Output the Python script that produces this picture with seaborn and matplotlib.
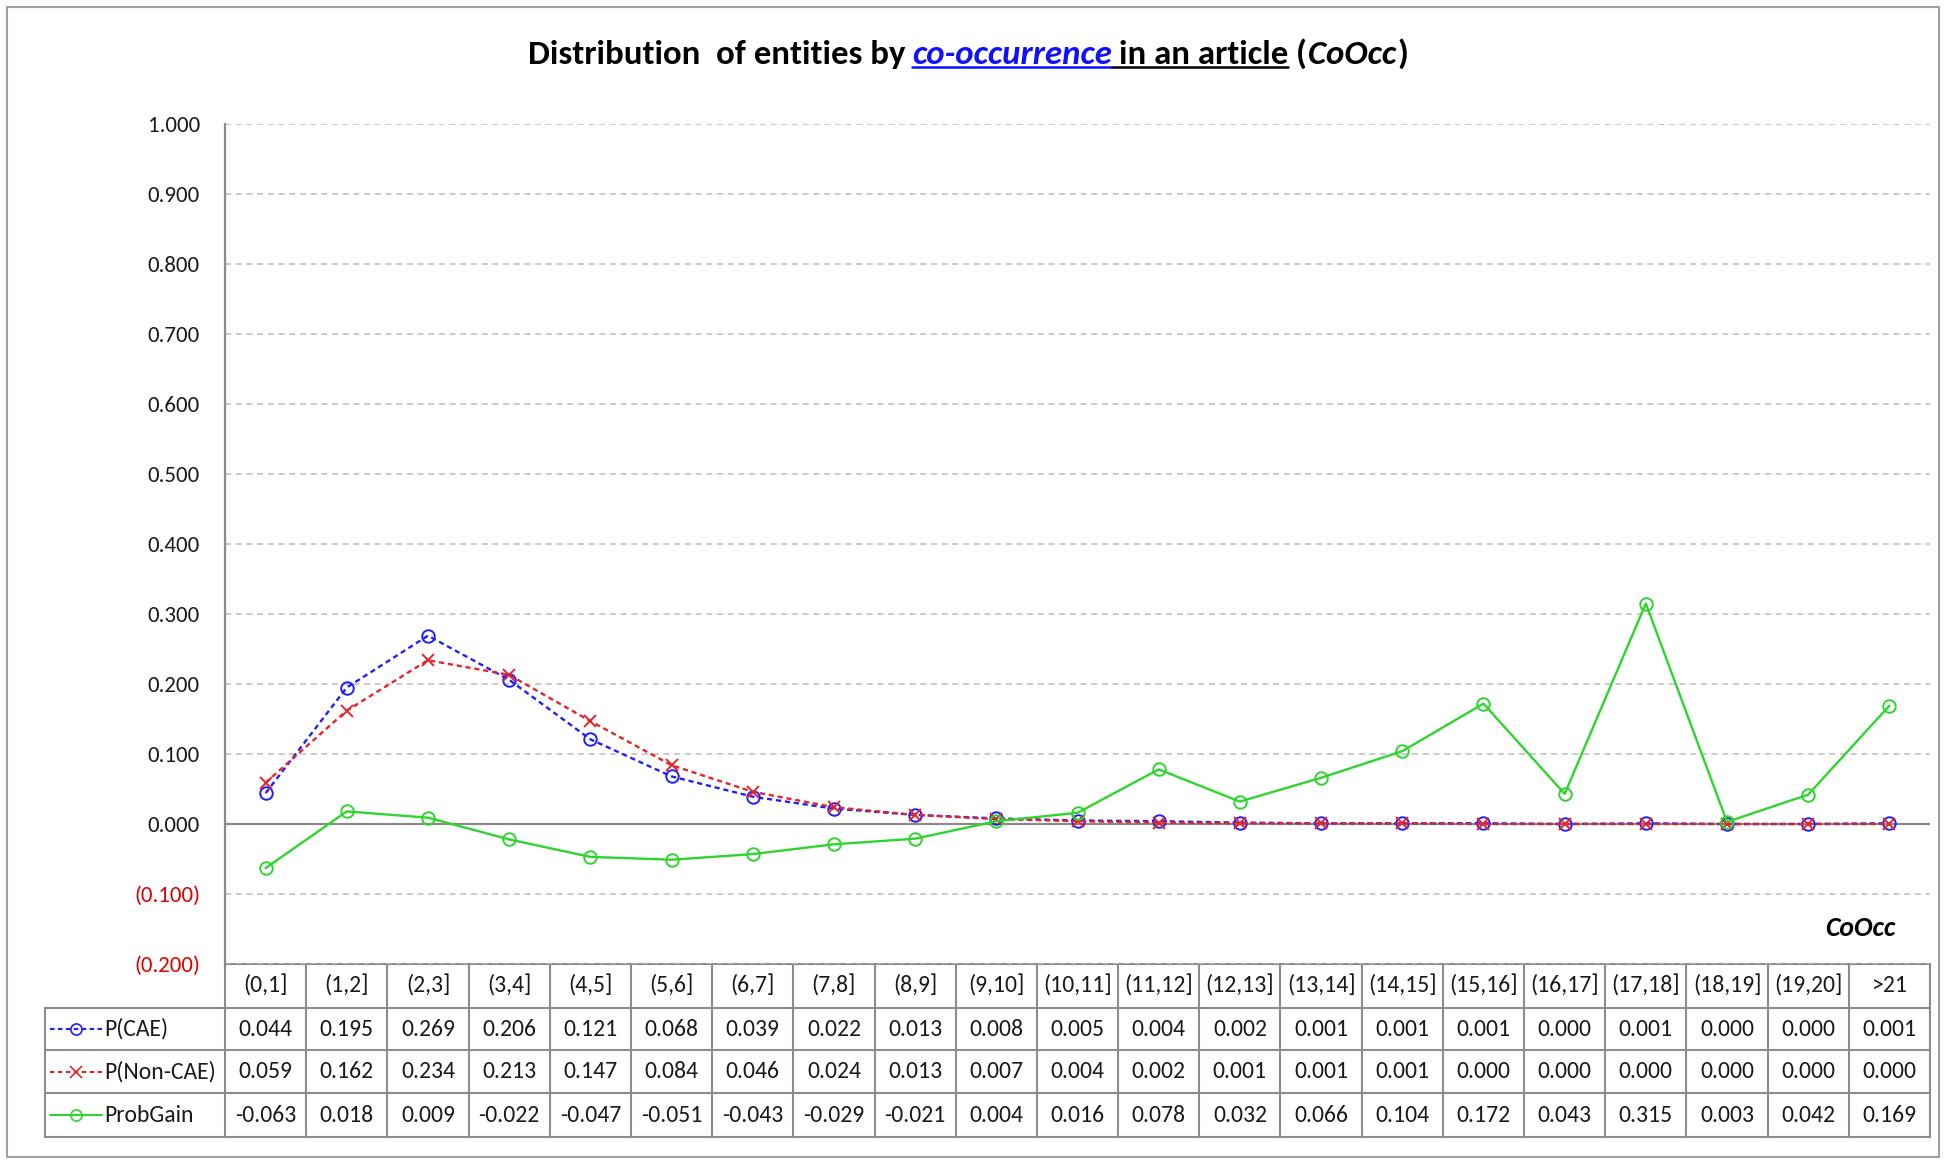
import numpy as np
import pandas as pd
import matplotlib
matplotlib.use("Agg")
import matplotlib.pyplot as plt
import seaborn as sns
from matplotlib.lines import Line2D

# ========== DATA ==========
BINS = ["(0,1]", "(1,2]", "(2,3]", "(3,4]", "(4,5]", "(5,6]", "(6,7]", "(7,8]",
        "(8,9]", "(9,10]", "(10,11]", "(11,12]", "(12,13]", "(13,14]", "(14,15]",
        "(15,16]", "(16,17]", "(17,18]", "(18,19]", "(19,20]", ">21"]
P_CAE = [0.044, 0.195, 0.269, 0.206, 0.121, 0.068, 0.039, 0.022, 0.013, 0.008, 0.005,
         0.004, 0.002, 0.001, 0.001, 0.001, 0.000, 0.001, 0.000, 0.000, 0.001]
P_NON_CAE = [0.059, 0.162, 0.234, 0.213, 0.147, 0.084, 0.046, 0.024, 0.013, 0.007, 0.004,
             0.002, 0.001, 0.001, 0.001, 0.000, 0.000, 0.000, 0.000, 0.000, 0.000]
PROB_GAIN = [-0.063, 0.018, 0.009, -0.022, -0.047, -0.051, -0.043, -0.029, -0.021, 0.004,
             0.016, 0.078, 0.032, 0.066, 0.104, 0.172, 0.043, 0.315, 0.003, 0.042, 0.169]
SERIES = ["P(CAE)", "P(Non-CAE)", "ProbGain"]
Y_TICKS = [-0.2, -0.1, 0.0, 0.1, 0.2, 0.3, 0.4, 0.5, 0.6, 0.7, 0.8, 0.9, 1.0]

# ========== STYLE ==========
W, H, DPI = 1946, 1164, 100
FONT = ["Carlito", "Liberation Sans Narrow", "Liberation Sans", "DejaVu Sans"]
STYLES = {
    "P(CAE)": dict(color="#1f1fff", ls=(0, (2.2, 1.6)), marker="o"),
    "P(Non-CAE)": dict(color="#e3262b", ls=(0, (2.2, 1.6)), marker="x"),
    "ProbGain": dict(color="#2fd52f", ls="-", marker="o"),
}
GRID_C = "#bdbdbd"
TABLE_C = "#8c8c8c"
TXT_C = "#1a1a1a"
TXT = 17

# layout in pixels (top-left origin)
PLOT_L, PLOT_R, PLOT_T, PLOT_B = 225, 1930, 124, 964
TABLE_L = 45
ROW_Y = [964, 1008, 1050, 1093, 1137]

sns.set_theme(style="white")
plt.rcParams["font.family"] = FONT

fig = plt.figure(figsize=(W / DPI, H / DPI), dpi=DPI)
ax = fig.add_axes([PLOT_L / W, 1 - PLOT_B / H, (PLOT_R - PLOT_L) / W, (PLOT_B - PLOT_T) / H])
ax.set_facecolor("none")

x = np.arange(len(BINS))
data = {"P(CAE)": P_CAE, "P(Non-CAE)": P_NON_CAE, "ProbGain": PROB_GAIN}
df = pd.DataFrame({"x": x, **data})

ax.yaxis.grid(True, color=GRID_C, linestyle=(0, (4, 3)), lw=1.1)
ax.axhline(0, color="#8a8a8a", lw=1.6, zorder=1)

for name in SERIES:
    st = STYLES[name]
    sns.lineplot(data=df, x="x", y=name, ax=ax, color=st["color"], lw=1.7,
                 marker=st["marker"], markersize=9, legend=False, zorder=3)
    ln = ax.lines[-1]
    ln.set_linestyle(st["ls"])
    ln.set_markerfacecolor("none")
    ln.set_markeredgecolor(st["color"])
    ln.set_markeredgewidth(1.4)

ax.set_xlim(-0.5, len(BINS) - 0.5)
ax.set_ylim(-0.2, 1.0)
ax.set_yticks(Y_TICKS)
ax.set_yticklabels([f"{v:.3f}" if v >= -1e-9 else f"({-v:.3f})" for v in Y_TICKS])
for lab, v in zip(ax.get_yticklabels(), Y_TICKS):
    lab.set_color("#e00000" if v < -1e-9 else TXT_C)
    lab.set_fontsize(16.5)
ax.tick_params(axis="y", length=0, pad=18)
ax.set_xticks([])
ax.set_xlabel("")
ax.set_ylabel("")
for side in ["top", "right", "bottom"]:
    ax.spines[side].set_visible(False)
ax.spines["left"].set_color("#8a8a8a")
ax.spines["left"].set_linewidth(1.6)

# ========== OVERLAY (pixel coords) ==========
ov = fig.add_axes([0, 0, 1, 1], zorder=-1)
ov.set_xlim(0, W)
ov.set_ylim(H, 0)
ov.axis("off")

# outer chart border
ov.plot([7, 1939, 1939, 7, 7], [7, 7, 1157, 1157, 7], color="#a0a0a0", lw=1.5)

# data table below the plot, columns tied to the category scale
fig.canvas.draw()
edges = [ax.transData.transform((i - 0.5, 0))[0] for i in range(len(BINS) + 1)]
centers = [(a + b) / 2 for a, b in zip(edges[:-1], edges[1:])]
tkw = dict(color=TABLE_C, lw=1.5, solid_capstyle="projecting")
ov.plot([edges[0], edges[-1]], [ROW_Y[0], ROW_Y[0]], **tkw)
for y in ROW_Y[1:]:
    ov.plot([TABLE_L, edges[-1]], [y, y], **tkw)
for e in edges:
    ov.plot([e, e], [ROW_Y[0], ROW_Y[-1]], **tkw)
ov.plot([TABLE_L, TABLE_L], [ROW_Y[1], ROW_Y[-1]], **tkw)

row_mid = [(a + b) / 2 for a, b in zip(ROW_Y[:-1], ROW_Y[1:])]
for c, lab in zip(centers, BINS):
    ov.text(c, row_mid[0], lab, ha="center", va="center", fontsize=TXT, color=TXT_C)
for r, name in enumerate(SERIES, start=1):
    st = STYLES[name]
    ym = row_mid[r]
    ov.add_line(Line2D([50, 102], [ym, ym], color=st["color"], lw=1.5, ls=st["ls"]))
    ov.add_line(Line2D([76], [ym], marker=st["marker"], markersize=8, color=st["color"],
                       markerfacecolor="none", markeredgewidth=1.2))
    ov.text(104, ym, name, ha="left", va="center", fontsize=TXT, color=TXT_C)
    for c, v in zip(centers, data[name]):
        ov.text(c, ym, f"{v:.3f}", ha="center", va="center", fontsize=TXT, color=TXT_C)

# axis caption
fig.text(1895 / W, 1 - 928 / H, "CoOcc", ha="right", va="center", fontsize=20,
         fontweight="bold", fontstyle="italic", color="black")

# ========== TITLE (mixed styles) ==========
TSIZE = 25
pieces = [
    ("Distribution  of entities by", dict(fontweight="bold", color="black"), 0),
    ("co-occurrence", dict(fontweight="bold", fontstyle="italic", color="#1010ff"), 5),
    ("in an article", dict(fontweight="bold", color="black"), 5),
    ("(", dict(fontweight="bold", color="black"), 5),
    ("CoOcc", dict(fontweight="bold", fontstyle="italic", color="black"), 1),
    (")", dict(fontweight="bold", color="black"), 1),
]
TITLE_Y = H - 69
texts = []
prev = None
for txt, kw, gap in pieces:
    if prev is None:
        t = ax.annotate(txt, xy=(0, TITLE_Y), xycoords="figure pixels", ha="left",
                        va="bottom", fontsize=TSIZE, annotation_clip=False, **kw)
    else:
        t = ax.annotate(txt, xy=(1, 0), xycoords=prev, xytext=(gap, 0),
                        textcoords="offset points", ha="left", va="bottom",
                        fontsize=TSIZE, annotation_clip=False, **kw)
    texts.append(t)
    prev = t

fig.canvas.draw()
r = fig.canvas.get_renderer()
bbs = [t.get_window_extent(r) for t in texts]
total = bbs[-1].x1 - bbs[0].x0
texts[0].xy = (968 - total / 2, TITLE_Y)
texts[0].xyann = (968 - total / 2, TITLE_Y)
fig.canvas.draw()
bbs = [t.get_window_extent(r) for t in texts]
uy = H - (bbs[1].y0 + 2)
ov.plot([bbs[1].x0, bbs[1].x1], [uy, uy], color="#1010ff", lw=1.8)
ov.plot([bbs[1].x1, bbs[2].x1], [uy, uy], color="black", lw=1.8)

fig.savefig("out.png", dpi=DPI, facecolor="white")
